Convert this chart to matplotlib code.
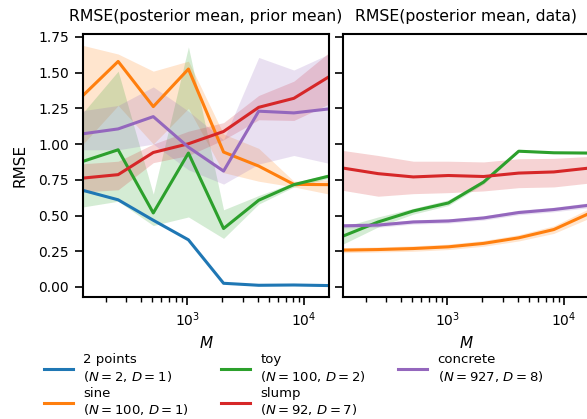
import numpy as np
import matplotlib
matplotlib.use("Agg")
import matplotlib.pyplot as plt

# number of samples M
M = [128, 256, 512, 1024, 2048, 4096, 8192, 16384]

labels = ["2 points\n($N=2$, $D=1$)",
          "sine\n($N=100$, $D=1$)",
          "toy\n($N=100$, $D=2$)",
          "slump\n($N=92$, $D=7$)",
          "concrete\n($N=927$, $D=8$)"]

# left panel: RMSE(posterior mean, prior mean)
prior_2points = [0.676, 0.61, 0.467, 0.33, 0.026, 0.012, 0.014, 0.01]
prior_2points_lo = [0.671, 0.605, 0.462, 0.325, 0.022, 0.009, 0.011, 0.007]
prior_2points_hi = [0.681, 0.615, 0.472, 0.335, 0.030, 0.015, 0.017, 0.013]

prior_sine = [1.34, 1.578, 1.262, 1.525, 0.944, 0.846, 0.718, 0.716]
prior_sine_lo = [1.00, 1.27, 1.00, 1.25, 0.80, 0.74, 0.70, 0.65]
prior_sine_hi = [1.69, 1.63, 1.51, 1.58, 1.07, 0.97, 0.74, 0.75]

prior_toy = [0.879, 0.96, 0.518, 0.937, 0.409, 0.607, 0.716, 0.776]
prior_toy_lo = [0.56, 0.60, 0.43, 0.49, 0.34, 0.58, 0.70, 0.76]
prior_toy_hi = [1.22, 1.51, 0.65, 1.68, 0.54, 0.64, 0.73, 0.79]

prior_slump = [0.762, 0.786, 0.941, 1.002, 1.088, 1.257, 1.32, 1.471]
prior_slump_lo = [0.665, 0.68, 0.87, 0.92, 1.03, 1.17, 1.165, 1.28]
prior_slump_hi = [0.862, 0.88, 1.00, 1.09, 1.15, 1.34, 1.44, 1.64]

prior_concrete = [1.072, 1.106, 1.192, 0.978, 0.811, 1.23, 1.218, 1.246]
prior_concrete_lo = [0.96, 0.96, 1.0, 0.82, 0.72, 0.86, 0.92, 0.865]
prior_concrete_hi = [1.234, 1.27, 1.40, 1.23, 1.03, 1.606, 1.518, 1.63]

# right panel: RMSE(posterior mean, data)
data_sine = [0.258, 0.262, 0.269, 0.281, 0.305, 0.344, 0.402, 0.514]
data_sine_lo = [0.24, 0.245, 0.25, 0.262, 0.285, 0.322, 0.375, 0.48]
data_sine_hi = [0.276, 0.28, 0.288, 0.30, 0.325, 0.366, 0.428, 0.548]

data_toy = [0.356, 0.455, 0.532, 0.588, 0.734, 0.95, 0.939, 0.937]
data_toy_lo = [0.30, 0.42, 0.51, 0.57, 0.72, 0.945, 0.935, 0.933]
data_toy_hi = [0.42, 0.49, 0.55, 0.61, 0.75, 0.955, 0.945, 0.943]

data_slump = [0.832, 0.793, 0.77, 0.78, 0.773, 0.797, 0.805, 0.832]
data_slump_lo = [0.676, 0.635, 0.653, 0.66, 0.672, 0.695, 0.70, 0.727]
data_slump_hi = [0.955, 0.92, 0.88, 0.88, 0.875, 0.897, 0.90, 0.913]

data_concrete = [0.428, 0.433, 0.455, 0.462, 0.483, 0.521, 0.542, 0.572]
data_concrete_lo = [0.413, 0.418, 0.44, 0.447, 0.468, 0.505, 0.526, 0.555]
data_concrete_hi = [0.443, 0.448, 0.47, 0.477, 0.498, 0.537, 0.558, 0.589]

colors = ["tab:blue", "tab:orange", "tab:green", "tab:red", "tab:purple"]

plt.rcParams["font.family"] = "DejaVu Sans"
plt.rcParams["axes.linewidth"] = 1.5

fig = plt.figure(figsize=(5.87, 4.19), dpi=100)
ax1 = fig.add_axes([83 / 587, 1 - 297 / 419, 246 / 587, 263 / 419])
ax2 = fig.add_axes([343 / 587, 1 - 297 / 419, 246 / 587, 263 / 419], sharey=ax1)

left = [(prior_2points, prior_2points_lo, prior_2points_hi),
        (prior_sine, prior_sine_lo, prior_sine_hi),
        (prior_toy, prior_toy_lo, prior_toy_hi),
        (prior_slump, prior_slump_lo, prior_slump_hi),
        (prior_concrete, prior_concrete_lo, prior_concrete_hi)]
right = [None,
         (data_sine, data_sine_lo, data_sine_hi),
         (data_toy, data_toy_lo, data_toy_hi),
         (data_slump, data_slump_lo, data_slump_hi),
         (data_concrete, data_concrete_lo, data_concrete_hi)]

handles = []
for i in range(5):
    mean, lo, hi = left[i]
    h, = ax1.plot(M, mean, color=colors[i], lw=2.2, label=labels[i])
    ax1.fill_between(M, lo, hi, color=colors[i], alpha=0.2, lw=0)
    handles.append(h)
    if right[i] is not None:
        mean, lo, hi = right[i]
        ax2.plot(M, mean, color=colors[i], lw=2.2)
        ax2.fill_between(M, lo, hi, color=colors[i], alpha=0.2, lw=0)

for ax in (ax1, ax2):
    ax.set_xscale("log")
    ax.set_xlim(128, 16384)
    ax.set_xlabel("$M$", fontsize=11)
    ax.tick_params(which="major", length=6, width=1.2, labelsize=10, pad=4)
    ax.tick_params(which="minor", length=3.5, width=1.0)

ax1.set_ylim(-0.07, 1.77)
ax1.set_yticks([0.0, 0.25, 0.5, 0.75, 1.0, 1.25, 1.5, 1.75])
ax1.set_ylabel("RMSE", fontsize=11, labelpad=8)
plt.setp(ax2.get_yticklabels(), visible=False)

ax1.set_title("RMSE(posterior mean, prior mean)", fontsize=11.3, pad=9)
ax2.set_title("RMSE(posterior mean, data)", fontsize=11.3, pad=9)

fig.legend(handles=handles, loc="upper center", bbox_to_anchor=(0.5, 0.185),
           ncol=3, frameon=False, fontsize=9.5, handlelength=2.2,
           handletextpad=0.8, columnspacing=2.4, labelspacing=0.25)

fig.savefig("out.png", dpi=100)
